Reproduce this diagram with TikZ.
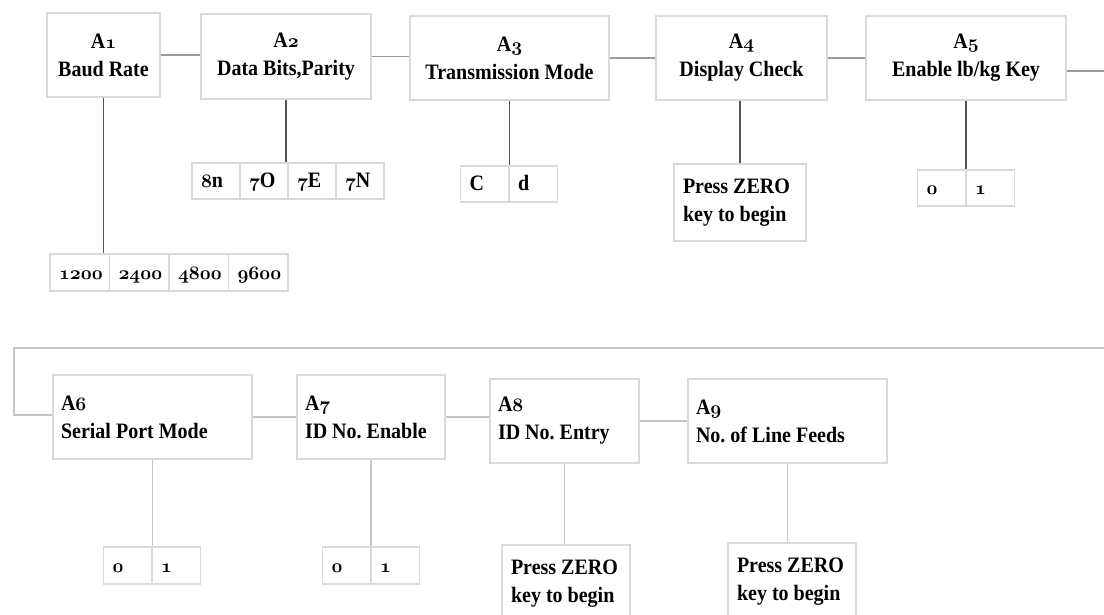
\documentclass[tikz,border=0pt]{standalone}
\usepackage{fontspec}
\setmainfont{Liberation Serif}[FakeStretch=0.91]
\font\osnf=cmmib10 at 19pt
\newcommand\os[1]{{\osnf #1}}
\definecolor{boxc}{HTML}{D9D9D9}
\definecolor{hconc}{HTML}{9A9A9A}
\definecolor{vconc}{HTML}{555555}
\definecolor{bconc}{HTML}{C4C4C4}
\frenchspacing
\begin{document}
\begin{tikzpicture}[x=1pt,y=-1pt,
  every node/.style={font=\bfseries\fontsize{22}{28}\selectfont},
  box/.style={draw=boxc, line width=1.5pt, inner sep=0pt, align=center},
  lbox/.style={draw=boxc, line width=1.5pt, inner ysep=0pt, inner xsep=8pt, align=flush left},
  pbox/.style={draw=boxc, line width=1.5pt, inner ysep=0pt, inner xsep=9pt, align=flush left},
  cell/.style={draw=boxc, line width=1.5pt, inner ysep=0pt, inner xsep=9pt, align=flush left, text height=14pt, text depth=0pt},
  hcon/.style={draw=hconc, line width=1.2pt},
  vcon/.style={draw=vconc, line width=1.2pt},
  bcon/.style={draw=bconc, line width=1.2pt}]
\useasboundingbox (0,0) rectangle (1104,615);
\clip (0,0) rectangle (1104,615);
% ---- top row
\node[box, minimum width=113pt, minimum height=84pt] (a1) at (103.5,55) {A\os{1}\\Baud Rate};
\node[box, minimum width=170pt, minimum height=85pt] (a2) at (286,56.5) {A\os{2}\\Data Bits,Parity};
\node[box, minimum width=199pt, minimum height=84pt] (a3) at (509.5,58) {A\os{3}\\Transmission Mode};
\node[box, minimum width=171pt, minimum height=84pt] (a4) at (741.5,58) {A\os{4}\\Display Check};
\node[box, minimum width=200pt, minimum height=84pt] (a5) at (966,58) {A\os{5}\\Enable lb/kg Key};
\coordinate (r1) at (1104,71);
\draw[hcon] (a1.east) -- (a1.east -| a2.west);
\draw[hcon] (a2.east) -- (a2.east -| a3.west);
\draw[hcon] (a3.east) -- (a3.east -| a4.west);
\draw[hcon] (a4.east) -- (a4.east -| a5.west);
\draw[hcon] (a5.east |- r1) -- (r1);
% options A1
\node[cell, minimum width=59.5pt, minimum height=37pt, text width=41.5pt] (a1o1) at (79.75,272.5) {\os{1200}};
\node[cell, minimum width=59.5pt, minimum height=37pt, text width=41.5pt] (a1o2) at (139.25,272.5) {\os{2400}};
\node[cell, minimum width=59.5pt, minimum height=37pt, text width=41.5pt] (a1o3) at (198.75,272.5) {\os{4800}};
\node[cell, minimum width=59.5pt, minimum height=37pt, text width=41.5pt] (a1o4) at (258.25,272.5) {\os{9600}};
% options A2
\node[cell, minimum width=48pt, minimum height=36pt, text width=30pt] (a2o1) at (216,181) {\os{8}n};
\node[cell, minimum width=48pt, minimum height=36pt, text width=30pt] (a2o2) at (264,181) {\os{7}O};
\node[cell, minimum width=48pt, minimum height=36pt, text width=30pt] (a2o3) at (312,181) {\os{7}E};
\node[cell, minimum width=48pt, minimum height=36pt, text width=30pt] (a2o4) at (360,181) {\os{7}N};
% options A3
\node[cell, minimum width=48.5pt, minimum height=36pt, text width=30.5pt] (a3o1) at (484.75,184) {C};
\node[cell, minimum width=48.5pt, minimum height=36pt, text width=30.5pt] (a3o2) at (533.25,184) {d};
% A4 press
\node[pbox, minimum width=132pt, minimum height=77pt, text width=114pt] (a4p) at (740,202.5) {Press ZERO\\key to begin};
% options A5
\node[cell, minimum width=48.5pt, minimum height=36pt, text width=30.5pt] (a5o1) at (941.75,188) {\os{0}};
\node[cell, minimum width=48.5pt, minimum height=36pt, text width=30.5pt] (a5o2) at (990.25,188) {\os{1}};
\draw[vcon] (a1.south) -- (a1.south |- a1o1.north);
\draw[vcon] (a2.south) -- (a2.south |- a2o1.north);
\draw[vcon] (a3.south) -- (a3.south |- a3o1.north);
\draw[vcon] (a4p.north |- a4.south) -- (a4p.north);
\draw[vcon] (a5.south) -- (a5.south |- a5o1.north);
% ---- bottom row
\node[lbox, minimum width=199pt, minimum height=84pt, text width=183pt] (a6) at (152.5,417) {A\os{6}\\Serial Port Mode};
\node[lbox, minimum width=148pt, minimum height=84pt, text width=132pt] (a7) at (371,417) {A\os{7}\\ID No. Enable};
\node[lbox, minimum width=149pt, minimum height=84pt, text width=133pt] (a8) at (564.5,421) {A\os{8}\\ID No. Entry};
\node[lbox, minimum width=199pt, minimum height=84pt, text width=183pt] (a9) at (787.5,421) {A\os{9}\\No. of Line Feeds};
\coordinate (r2) at (1104,348);
\coordinate (l1) at (14,348);
\coordinate (l2) at (14,415);
\draw[bcon] (r2) -- (l1) -- (l2) -- (l2 -| a6.west);
\draw[bcon] (a6.east) -- (a6.east -| a7.west);
\draw[bcon] (a7.east) -- (a7.east -| a8.west);
\draw[bcon] (a8.east) -- (a8.east -| a9.west);
% options A6, A7
\node[cell, minimum width=48.5pt, minimum height=37pt, text width=30.5pt] (a6o1) at (127.75,565.5) {\os{0}};
\node[cell, minimum width=48.5pt, minimum height=37pt, text width=30.5pt] (a6o2) at (176.25,565.5) {\os{1}};
\node[cell, minimum width=48.5pt, minimum height=37pt, text width=30.5pt] (a7o1) at (346.75,565.5) {\os{0}};
\node[cell, minimum width=48.5pt, minimum height=37pt, text width=30.5pt] (a7o2) at (395.25,565.5) {\os{1}};
% press A8, A9
\node[pbox, minimum width=128pt, minimum height=77pt, text width=110pt] (a8p) at (566,583.5) {Press ZERO\\key to begin};
\node[pbox, minimum width=128pt, minimum height=77pt, text width=110pt] (a9p) at (792,581.5) {Press ZERO\\key to begin};
\draw[bcon] (a6.south) -- (a6.south |- a6o1.north);
\draw[bcon] (a7.south) -- (a7.south |- a7o1.north);
\draw[bcon] (a8.south) -- (a8.south |- a8p.north);
\draw[bcon] (a9.south) -- (a9.south |- a9p.north);
\end{tikzpicture}
\end{document}
